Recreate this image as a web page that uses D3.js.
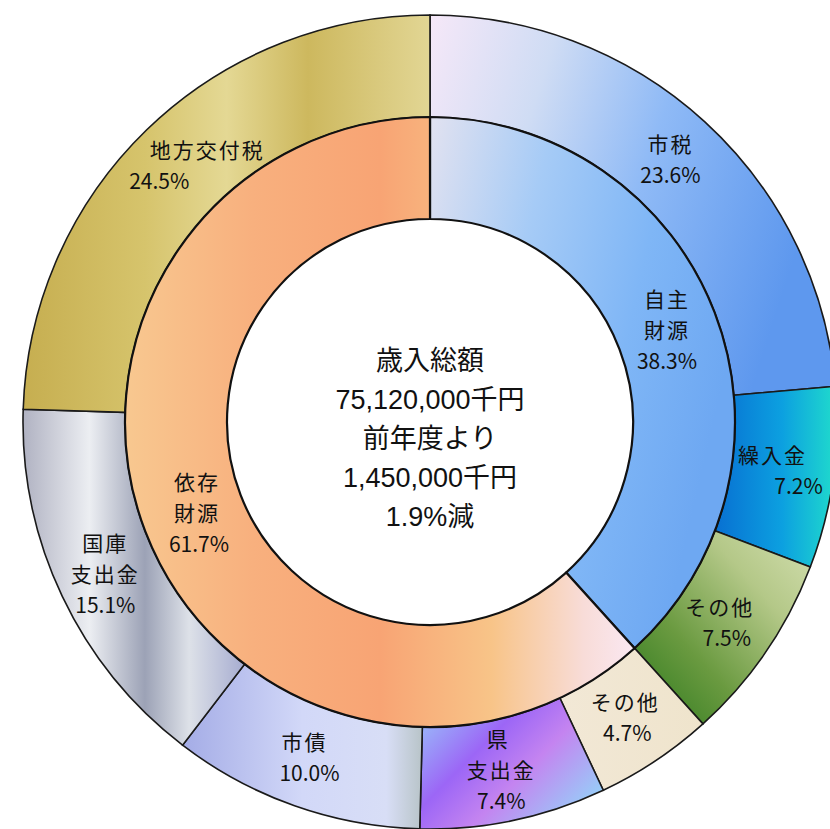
<!DOCTYPE html>
<html>
<head>
<meta charset="utf-8">
<script src="https://cdn.jsdelivr.net/npm/d3@7"></script>
<style>
  body { margin: 0; background: #fff; }
  svg { display: block; }
  .lbl { font-family: "Noto Sans CJK JP", "Noto Sans", sans-serif; font-size: 21px; fill: #111; }
  .lbl .jp { letter-spacing: 2px; }
  .ctr { font-family: "Liberation Sans", "Noto Sans CJK JP", sans-serif; font-size: 27px; fill: #111; }
</style>
</head>
<body>
<svg id="chart"></svg>
<script>
// 歳入内訳（外側）
const outerNames = ["市税", "繰入金", "その他", "その他", "県\n支出金", "市債", "国庫\n支出金", "地方交付税"];
const outerValues = [23.6, 7.2, 7.5, 4.7, 7.4, 10.0, 15.1, 24.5];
// 自主財源・依存財源（内側）
const innerNames = ["自主\n財源", "依存\n財源"];
const innerValues = [38.3, 61.7];
const centerLines = ["歳入総額", "75,120,000千円", "前年度より", "1,450,000千円", "1.9%減"];

const width_c = 830, height_c = 829;
const cx = 430, cy = 422;
const r0 = 203, r1 = 305, r2 = 407;

// gradient stops per segment: [x1,y1,x2,y2], stops
const outerFills = [
  { dir: [0, 0, 1, 0.3], stops: [[0, "#f6e8f8"], [0.3, "#cfdcf4"], [0.6, "#8fbaf6"], [1, "#5e98ee"]] },
  { dir: [0, 0, 1, 0], stops: [[0, "#0870d2"], [0.55, "#0ca0e0"], [1, "#20dccc"]] },
  { dir: [0, 1, 1, 0], stops: [[0, "#2b781c"], [0.35, "#6a9a40"], [0.7, "#b4c888"], [1, "#d4dfb0"]] },
  { dir: [0, 0, 1, 0], stops: [[0, "#f2e8d6"], [1, "#efe4cc"]] },
  { dir: [0, 0, 1, 0.7], stops: [[0, "#98d0fa"], [0.4, "#9c66f6"], [0.65, "#c484f0"], [1, "#98ccf8"]] },
  { dir: [0, 0, 1, 0], stops: [[0, "#a4ace6"], [0.5, "#d2d8f8"], [0.85, "#d8def6"], [1, "#b8c4c8"]] },
  { dir: [0, 0, 1, 0], stops: [[0, "#b0b2c2"], [0.3, "#eceef2"], [0.55, "#9ca2b6"], [0.75, "#dde1e8"], [1, "#a6acd0"]] },
  { dir: [0, 0, 1, 0], stops: [[0, "#c6ae50"], [0.3, "#d6c46c"], [0.5, "#e4d894"], [0.7, "#cdb85e"], [1, "#e2d694"]] }
];
const innerFills = [
  { dir: [0, 0, 1, 0.4], stops: [[0, "#e2e2f0"], [0.35, "#a6cbf6"], [0.7, "#7fb6f6"], [1, "#6ea8f2"]] },
  { dir: [0, 0, 1, 0], stops: [[0, "#f8c890"], [0.25, "#f8b07e"], [0.5, "#f8a474"], [0.72, "#f8c488"], [0.9, "#f8dcd8"], [1, "#fae8f2"]] }
];

// label line offsets (dx per line) for a few labels that sit off-centre
const outerLabelDx = [[0, 0], [-10, 16], [-4, 3], [-2, 0], [-5, -2, -2], [-7, -2], [-3, -3, -3], [25, -23]];
const innerLabelDx = [[0, 0, 0], [4, 4, 6]];

const svg = d3.select("#chart")
  .attr("width", width_c)
  .attr("height", height_c);

const defs = svg.append("defs");
function addGrad(id, f) {
  const g = defs.append("linearGradient").attr("id", id)
    .attr("x1", f.dir[0]).attr("y1", f.dir[1]).attr("x2", f.dir[2]).attr("y2", f.dir[3]);
  f.stops.forEach(s => g.append("stop").attr("offset", s[0]).attr("stop-color", s[1]));
}
outerFills.forEach((f, i) => addGrad("go" + i, f));
innerFills.forEach((f, i) => addGrad("gi" + i, f));

const pie = d3.pie().sort(null).value(d => d);
const outerArcs = pie(outerValues);
const innerArcs = pie(innerValues);

const arcOuter = d3.arc().innerRadius(r1).outerRadius(r2);
const arcInner = d3.arc().innerRadius(r0).outerRadius(r1);

const g = svg.append("g").attr("transform", `translate(${cx},${cy})`);

g.selectAll(".outer")
  .data(outerArcs)
  .join("path")
  .attr("class", "outer")
  .attr("d", arcOuter)
  .attr("fill", (d, i) => `url(#go${i})`)
  .attr("stroke", "#1a1a1a")
  .attr("stroke-width", 1.6);

g.selectAll(".inner")
  .data(innerArcs)
  .join("path")
  .attr("class", "inner")
  .attr("d", arcInner)
  .attr("fill", (d, i) => `url(#gi${i})`)
  .attr("stroke", "#111")
  .attr("stroke-width", 2.2);

function drawLabels(arcs, names, arcGen, dxs, cls) {
  const lineH = 31;
  arcs.forEach((d, i) => {
    const [x, y] = arcGen.centroid(d);
    const lines = names[i].split("\n").concat([d.data.toFixed(1) + "%"]);
    const y0 = y - (lines.length - 1) * lineH / 2;
    const t = g.append("text")
      .attr("class", cls)
      .attr("text-anchor", "middle");
    lines.forEach((ln, k) => {
      t.append("tspan")
        .attr("class", k < lines.length - 1 ? "jp" : null)
        .attr("x", x + (dxs[i][k] || 0))
        .attr("y", y0 + k * lineH)
        .attr("dy", "0.36em")
        .text(ln);
    });
  });
}
drawLabels(outerArcs, outerNames, arcOuter, outerLabelDx, "lbl");
drawLabels(innerArcs, innerNames, arcInner, innerLabelDx, "lbl");

const cLineH = 39;
const ct = g.append("text").attr("class", "ctr").attr("text-anchor", "middle");
centerLines.forEach((ln, k) => {
  ct.append("tspan")
    .attr("x", 0)
    .attr("y", 16 + (k - 2) * cLineH)
    .attr("dy", "0.36em")
    .text(ln);
});
</script>
</body>
</html>
